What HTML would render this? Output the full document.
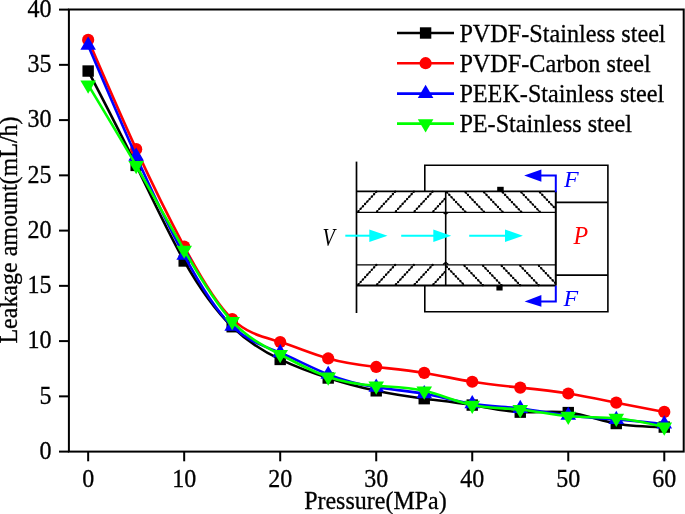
<!DOCTYPE html>
<html><head><meta charset="utf-8"><style>
html,body{margin:0;padding:0;background:#fff;}
svg{display:block;will-change:transform;}
text{font-family:"Liberation Serif",serif;font-size:24px;stroke:#000;stroke-width:0.3px;}
</style></head><body>
<svg width="685" height="514" viewBox="0 0 685 514">
<g stroke="#000" stroke-width="2" fill="none"><rect x="68.9" y="9.5" width="614.8" height="442.1"/><line x1="59" y1="451.60" x2="68.9" y2="451.60"/><line x1="59" y1="396.35" x2="68.9" y2="396.35"/><line x1="59" y1="341.10" x2="68.9" y2="341.10"/><line x1="59" y1="285.85" x2="68.9" y2="285.85"/><line x1="59" y1="230.60" x2="68.9" y2="230.60"/><line x1="59" y1="175.35" x2="68.9" y2="175.35"/><line x1="59" y1="120.10" x2="68.9" y2="120.10"/><line x1="59" y1="64.85" x2="68.9" y2="64.85"/><line x1="59" y1="9.60" x2="68.9" y2="9.60"/><line x1="88.16" y1="451.6" x2="88.16" y2="461.3"/><line x1="184.18" y1="451.6" x2="184.18" y2="461.3"/><line x1="280.20" y1="451.6" x2="280.20" y2="461.3"/><line x1="376.22" y1="451.6" x2="376.22" y2="461.3"/><line x1="472.24" y1="451.6" x2="472.24" y2="461.3"/><line x1="568.26" y1="451.6" x2="568.26" y2="461.3"/><line x1="664.28" y1="451.6" x2="664.28" y2="461.3"/></g>
<text transform="translate(51.50,458.90) scale(1,1.05)" text-anchor="end">0</text><text transform="translate(51.50,403.65) scale(1,1.05)" text-anchor="end">5</text><text transform="translate(51.50,348.40) scale(1,1.05)" text-anchor="end">10</text><text transform="translate(51.50,293.15) scale(1,1.05)" text-anchor="end">15</text><text transform="translate(51.50,237.90) scale(1,1.05)" text-anchor="end">20</text><text transform="translate(51.50,182.65) scale(1,1.05)" text-anchor="end">25</text><text transform="translate(51.50,127.40) scale(1,1.05)" text-anchor="end">30</text><text transform="translate(51.50,72.15) scale(1,1.05)" text-anchor="end">35</text><text transform="translate(51.50,16.90) scale(1,1.05)" text-anchor="end">40</text><text transform="translate(88.16,486.80) scale(1,1.05)" text-anchor="middle">0</text><text transform="translate(184.18,486.80) scale(1,1.05)" text-anchor="middle">10</text><text transform="translate(280.20,486.80) scale(1,1.05)" text-anchor="middle">20</text><text transform="translate(376.22,486.80) scale(1,1.05)" text-anchor="middle">30</text><text transform="translate(472.24,486.80) scale(1,1.05)" text-anchor="middle">40</text><text transform="translate(568.26,486.80) scale(1,1.05)" text-anchor="middle">50</text><text transform="translate(664.28,486.80) scale(1,1.05)" text-anchor="middle">60</text><text transform="translate(375.40,509.20) scale(1,1.05)" text-anchor="middle">Pressure(MPa)</text><text transform="translate(17,230) rotate(-90) scale(1,1.05)" text-anchor="middle">Leakage amount(mL/h)</text>
<g stroke="#000" fill="none" stroke-width="1.6"><line x1="356.5" y1="161.6" x2="356.5" y2="313" stroke-width="1.7"/><polyline points="424.8,191 424.8,165.3 607.9,165.3 607.9,311.7 424.8,311.7 424.8,285.7"/><line x1="356.2" y1="191.4" x2="555.8" y2="191.4" stroke-width="1.8"/><line x1="356.2" y1="212.3" x2="555.8" y2="212.3" stroke-width="1.3"/><line x1="356.2" y1="264.9" x2="555.8" y2="264.9" stroke-width="1.3"/><line x1="356.2" y1="285.5" x2="555.8" y2="285.5" stroke-width="1.8"/><line x1="555.8" y1="191.1" x2="555.8" y2="285.7" stroke-width="2"/><line x1="555.8" y1="202.4" x2="607.9" y2="202.4"/><line x1="555.8" y1="275.1" x2="607.9" y2="275.1"/><line x1="445.7" y1="191.1" x2="445.7" y2="285.7"/><polyline points="443.2,212.4 445.7,214.2 448.2,212.4" stroke-width="1.3"/><polyline points="443.0,264.6 445.7,262.3 448.4,264.6" stroke-width="1.3"/></g><g stroke="#000" stroke-width="1.0"><line x1="357.40" y1="212.30" x2="376.63" y2="191.40"/><line x1="376.15" y1="212.30" x2="395.38" y2="191.40"/><line x1="394.90" y1="212.30" x2="414.13" y2="191.40"/><line x1="413.65" y1="212.30" x2="432.88" y2="191.40"/><line x1="432.40" y1="212.30" x2="445.70" y2="197.84"/><line x1="446.00" y1="191.40" x2="465.86" y2="212.30"/><line x1="464.60" y1="191.40" x2="484.46" y2="212.30"/><line x1="483.20" y1="191.40" x2="503.06" y2="212.30"/><line x1="501.80" y1="191.40" x2="521.65" y2="212.30"/><line x1="520.40" y1="191.40" x2="540.25" y2="212.30"/><line x1="539.00" y1="191.40" x2="555.80" y2="209.08"/><line x1="357.40" y1="285.50" x2="376.35" y2="264.90"/><line x1="376.15" y1="285.50" x2="395.10" y2="264.90"/><line x1="394.90" y1="285.50" x2="413.85" y2="264.90"/><line x1="413.65" y1="285.50" x2="432.60" y2="264.90"/><line x1="432.40" y1="285.50" x2="445.70" y2="271.04"/><line x1="445.70" y1="265.64" x2="464.57" y2="285.50"/><line x1="463.60" y1="264.90" x2="483.17" y2="285.50"/><line x1="482.20" y1="264.90" x2="501.77" y2="285.50"/><line x1="500.80" y1="264.90" x2="520.37" y2="285.50"/><line x1="519.40" y1="264.90" x2="538.97" y2="285.50"/><line x1="538.00" y1="264.90" x2="555.80" y2="283.64"/></g><g stroke="#000" stroke-width="2.4" stroke-linecap="round" stroke-dasharray="0.01 3.3" stroke-dashoffset="-1.5"><line x1="357.40" y1="212.30" x2="376.63" y2="191.40"/><line x1="376.15" y1="212.30" x2="395.38" y2="191.40"/><line x1="394.90" y1="212.30" x2="414.13" y2="191.40"/><line x1="413.65" y1="212.30" x2="432.88" y2="191.40"/><line x1="432.40" y1="212.30" x2="445.70" y2="197.84"/><line x1="446.00" y1="191.40" x2="465.86" y2="212.30"/><line x1="464.60" y1="191.40" x2="484.46" y2="212.30"/><line x1="483.20" y1="191.40" x2="503.06" y2="212.30"/><line x1="501.80" y1="191.40" x2="521.65" y2="212.30"/><line x1="520.40" y1="191.40" x2="540.25" y2="212.30"/><line x1="539.00" y1="191.40" x2="555.80" y2="209.08"/><line x1="357.40" y1="285.50" x2="376.35" y2="264.90"/><line x1="376.15" y1="285.50" x2="395.10" y2="264.90"/><line x1="394.90" y1="285.50" x2="413.85" y2="264.90"/><line x1="413.65" y1="285.50" x2="432.60" y2="264.90"/><line x1="432.40" y1="285.50" x2="445.70" y2="271.04"/><line x1="445.70" y1="265.64" x2="464.57" y2="285.50"/><line x1="463.60" y1="264.90" x2="483.17" y2="285.50"/><line x1="482.20" y1="264.90" x2="501.77" y2="285.50"/><line x1="500.80" y1="264.90" x2="520.37" y2="285.50"/><line x1="519.40" y1="264.90" x2="538.97" y2="285.50"/><line x1="538.00" y1="264.90" x2="555.80" y2="283.64"/></g><rect x="497.2" y="186.8" width="6.5" height="4.8" fill="#000"/><rect x="496.4" y="285.4" width="6.2" height="5.1" fill="#000"/><line x1="345.3" y1="235.7" x2="371.3" y2="235.7" stroke="#00ffff" stroke-width="2"/><polygon points="369.3,229.5 387.5,235.7 369.3,242" fill="#00ffff"/><line x1="401.2" y1="235.7" x2="435.3" y2="235.7" stroke="#00ffff" stroke-width="2"/><polygon points="433.3,229.5 451.2,235.7 433.3,242" fill="#00ffff"/><line x1="469.2" y1="235.7" x2="507" y2="235.7" stroke="#00ffff" stroke-width="2"/><polygon points="505,229.5 522.9,235.7 505,242" fill="#00ffff"/><polyline points="555.8,192.2 555.8,175.4 540,175.4" stroke="#0000ff" stroke-width="2" fill="none"/><polygon points="541.4,169.6 524.2,175.4 541.4,181.7" fill="#0000ff"/><polyline points="555.8,285.7 555.8,301.4 540,301.4" stroke="#0000ff" stroke-width="2" fill="none"/><polygon points="541.4,295.1 524.6,301.4 541.4,306.8" fill="#0000ff"/><text transform="translate(564,186.8) scale(1,1.0)" style="fill:#0000ff;stroke:none" font-style="italic">F</text><text transform="translate(563.5,306.1) scale(1,1.0)" style="fill:#0000ff;stroke:none" font-style="italic">F</text><text transform="translate(573.6,243.9) scale(1,1.06)" style="fill:#ff0000;stroke:none" font-style="italic">P</text><text transform="translate(322.6,245.7) scale(0.84,1.07)" style="stroke:none" font-style="italic">V</text>
<path d="M88.16,71.04 C104.16,101.86 120.17,132.68 136.17,165.41 C152.17,198.13 168.18,232.75 184.18,260.99 C200.18,289.23 216.19,311.09 232.19,326.74 C248.19,342.38 264.20,351.81 280.20,359.44 C296.20,367.08 312.21,372.91 328.21,378.01 C344.21,383.10 360.22,387.44 376.22,390.83 C392.22,394.21 408.23,396.62 424.23,398.67 C440.23,400.72 456.24,402.41 472.24,405.08 C488.24,407.75 504.25,411.41 520.25,412.15 C536.25,412.89 552.26,410.71 568.26,412.59 C584.26,414.48 600.27,420.44 616.27,423.53 C632.27,426.62 648.28,426.85 664.28,427.07" fill="none" stroke="#000000" stroke-width="2.6" stroke-linejoin="round"/>
<rect x="82.46" y="65.34" width="11.4" height="11.4" fill="#000000"/><rect x="130.47" y="159.71" width="11.4" height="11.4" fill="#000000"/><rect x="178.48" y="255.29" width="11.4" height="11.4" fill="#000000"/><rect x="226.49" y="321.04" width="11.4" height="11.4" fill="#000000"/><rect x="274.50" y="353.74" width="11.4" height="11.4" fill="#000000"/><rect x="322.51" y="372.31" width="11.4" height="11.4" fill="#000000"/><rect x="370.52" y="385.13" width="11.4" height="11.4" fill="#000000"/><rect x="418.53" y="392.97" width="11.4" height="11.4" fill="#000000"/><rect x="466.54" y="399.38" width="11.4" height="11.4" fill="#000000"/><rect x="514.55" y="406.45" width="11.4" height="11.4" fill="#000000"/><rect x="562.56" y="406.89" width="11.4" height="11.4" fill="#000000"/><rect x="610.57" y="417.83" width="11.4" height="11.4" fill="#000000"/><rect x="658.58" y="421.37" width="11.4" height="11.4" fill="#000000"/>
<path d="M88.16,39.88 C104.16,77.09 120.17,114.30 136.17,149.16 C152.17,184.02 168.18,216.53 184.18,246.51 C200.18,276.50 216.19,303.97 232.19,319.11 C248.19,334.25 264.20,337.08 280.20,341.98 C296.20,346.89 312.21,353.89 328.21,358.45 C344.21,363.01 360.22,365.12 376.22,366.96 C392.22,368.79 408.23,370.33 424.23,372.92 C440.23,375.51 456.24,379.15 472.24,381.76 C488.24,384.38 504.25,385.98 520.25,387.62 C536.25,389.26 552.26,390.93 568.26,393.48 C584.26,396.02 600.27,399.43 616.27,402.65 C632.27,405.87 648.28,408.90 664.28,411.93" fill="none" stroke="#ff0000" stroke-width="2.6" stroke-linejoin="round"/>
<circle cx="88.16" cy="39.88" r="6.1" fill="#ff0000"/><circle cx="136.17" cy="149.16" r="6.1" fill="#ff0000"/><circle cx="184.18" cy="246.51" r="6.1" fill="#ff0000"/><circle cx="232.19" cy="319.11" r="6.1" fill="#ff0000"/><circle cx="280.20" cy="341.98" r="6.1" fill="#ff0000"/><circle cx="328.21" cy="358.45" r="6.1" fill="#ff0000"/><circle cx="376.22" cy="366.96" r="6.1" fill="#ff0000"/><circle cx="424.23" cy="372.92" r="6.1" fill="#ff0000"/><circle cx="472.24" cy="381.76" r="6.1" fill="#ff0000"/><circle cx="520.25" cy="387.62" r="6.1" fill="#ff0000"/><circle cx="568.26" cy="393.48" r="6.1" fill="#ff0000"/><circle cx="616.27" cy="402.65" r="6.1" fill="#ff0000"/><circle cx="664.28" cy="411.93" r="6.1" fill="#ff0000"/>
<path d="M88.16,45.40 C104.16,82.98 120.17,120.56 136.17,156.23 C152.17,191.91 168.18,225.67 184.18,255.46 C200.18,285.25 216.19,311.07 232.19,326.29 C248.19,341.52 264.20,346.15 280.20,352.81 C296.20,359.47 312.21,368.15 328.21,374.47 C344.21,380.79 360.22,384.75 376.22,387.29 C392.22,389.83 408.23,390.96 424.23,393.81 C440.23,396.66 456.24,401.24 472.24,403.75 C488.24,406.26 504.25,406.70 520.25,408.50 C536.25,410.31 552.26,413.46 568.26,415.47 C584.26,417.47 600.27,418.31 616.27,419.56 C632.27,420.80 648.28,422.44 664.28,424.09" fill="none" stroke="#0000ff" stroke-width="2.6" stroke-linejoin="round"/>
<polygon points="88.16,36.60 95.96,49.80 80.36,49.80" fill="#0000ff"/><polygon points="136.17,147.43 143.97,160.63 128.37,160.63" fill="#0000ff"/><polygon points="184.18,246.66 191.98,259.86 176.38,259.86" fill="#0000ff"/><polygon points="232.19,317.49 239.99,330.69 224.39,330.69" fill="#0000ff"/><polygon points="280.20,344.01 288.00,357.21 272.40,357.21" fill="#0000ff"/><polygon points="328.21,365.67 336.01,378.87 320.41,378.87" fill="#0000ff"/><polygon points="376.22,378.49 384.02,391.69 368.42,391.69" fill="#0000ff"/><polygon points="424.23,385.01 432.03,398.21 416.43,398.21" fill="#0000ff"/><polygon points="472.24,394.95 480.04,408.15 464.44,408.15" fill="#0000ff"/><polygon points="520.25,399.70 528.05,412.90 512.45,412.90" fill="#0000ff"/><polygon points="568.26,406.67 576.06,419.87 560.46,419.87" fill="#0000ff"/><polygon points="616.27,410.75 624.07,423.95 608.47,423.95" fill="#0000ff"/><polygon points="664.28,415.29 672.08,428.49 656.48,428.49" fill="#0000ff"/>
<path d="M88.16,84.85 C104.16,111.31 120.17,137.77 136.17,165.52 C152.17,193.26 168.18,222.28 184.18,250.05 C200.18,277.82 216.19,304.33 232.19,321.43 C248.19,338.53 264.20,346.22 280.20,354.47 C296.20,362.72 312.21,371.52 328.21,377.01 C344.21,382.51 360.22,384.69 376.22,385.85 C392.22,387.01 408.23,387.15 424.23,390.83 C440.23,394.50 456.24,401.73 472.24,405.08 C488.24,408.43 504.25,407.91 520.25,409.50 C536.25,411.09 552.26,414.80 568.26,416.24 C584.26,417.68 600.27,416.84 616.27,418.23 C632.27,419.62 648.28,423.23 664.28,426.85" fill="none" stroke="#00ff00" stroke-width="2.6" stroke-linejoin="round"/>
<polygon points="80.36,80.45 95.96,80.45 88.16,93.65" fill="#00ff00"/><polygon points="128.37,161.12 143.97,161.12 136.17,174.32" fill="#00ff00"/><polygon points="176.38,245.65 191.98,245.65 184.18,258.85" fill="#00ff00"/><polygon points="224.39,317.03 239.99,317.03 232.19,330.23" fill="#00ff00"/><polygon points="272.40,350.07 288.00,350.07 280.20,363.27" fill="#00ff00"/><polygon points="320.41,372.61 336.01,372.61 328.21,385.81" fill="#00ff00"/><polygon points="368.42,381.45 384.02,381.45 376.22,394.65" fill="#00ff00"/><polygon points="416.43,386.43 432.03,386.43 424.23,399.63" fill="#00ff00"/><polygon points="464.44,400.68 480.04,400.68 472.24,413.88" fill="#00ff00"/><polygon points="512.45,405.10 528.05,405.10 520.25,418.30" fill="#00ff00"/><polygon points="560.46,411.84 576.06,411.84 568.26,425.04" fill="#00ff00"/><polygon points="608.47,413.83 624.07,413.83 616.27,427.03" fill="#00ff00"/><polygon points="656.48,422.45 672.08,422.45 664.28,435.65" fill="#00ff00"/>

<line x1="397" y1="33.0" x2="454" y2="33.0" stroke="#000000" stroke-width="2.6"/><rect x="419.90" y="27.30" width="11.4" height="11.4" fill="#000000"/><text transform="translate(459.40,41.70) scale(1.008,1.05)">PVDF-Stainless steel</text><line x1="397" y1="63.2" x2="454" y2="63.2" stroke="#ff0000" stroke-width="2.6"/><circle cx="425.60" cy="63.20" r="6.1" fill="#ff0000"/><text transform="translate(459.40,71.90) scale(1.008,1.05)">PVDF-Carbon steel</text><line x1="397" y1="93.6" x2="454" y2="93.6" stroke="#0000ff" stroke-width="2.6"/><polygon points="425.60,84.80 433.40,98.00 417.80,98.00" fill="#0000ff"/><text transform="translate(459.40,102.30) scale(1.008,1.05)">PEEK-Stainless steel</text><line x1="397" y1="123.6" x2="454" y2="123.6" stroke="#00ff00" stroke-width="2.6"/><polygon points="417.80,119.20 433.40,119.20 425.60,132.40" fill="#00ff00"/><text transform="translate(459.40,132.30) scale(1.008,1.05)">PE-Stainless steel</text>
</svg>
</body></html>
